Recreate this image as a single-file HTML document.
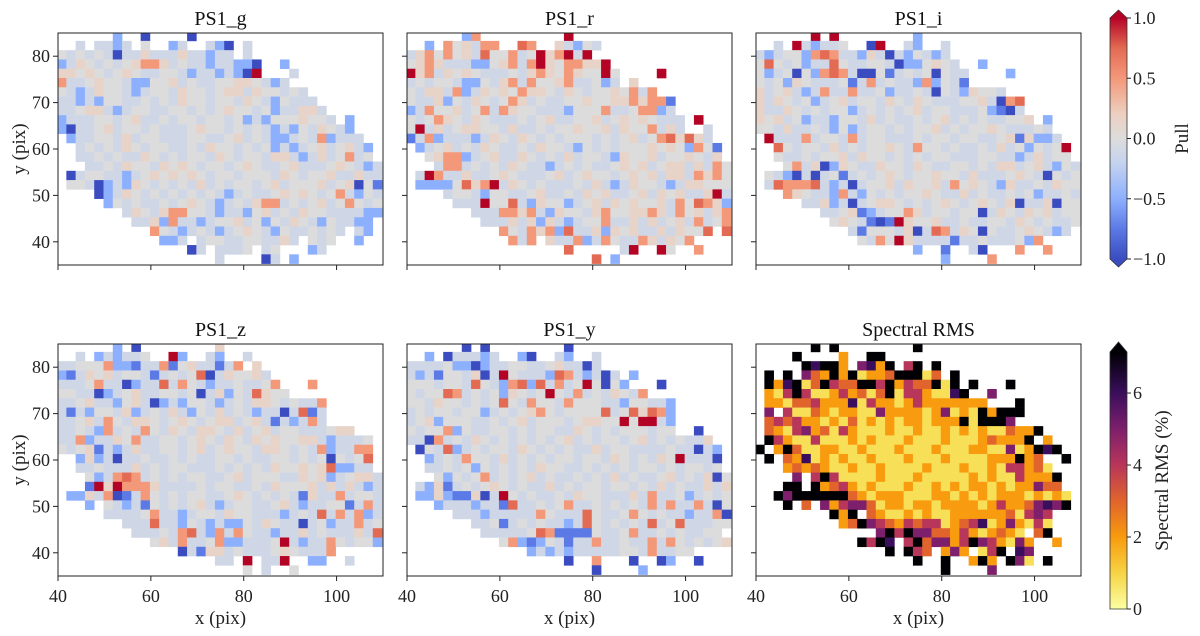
<!DOCTYPE html>
<html><head><meta charset="utf-8"><title>Pull maps</title>
<style>
html,body{margin:0;padding:0;background:#fff;}
svg{display:block;font-family:"Liberation Serif","DejaVu Serif",serif;}
</style></head>
<body>
<svg id="fig" width="1200" height="636" viewBox="0 0 1200 636" xmlns="http://www.w3.org/2000/svg">
<defs>
<linearGradient id="gPull" x1="0" y1="1" x2="0" y2="0">
<stop offset="0" stop-color="#3b4cc0"/><stop offset="0.125" stop-color="#5b7ae5"/><stop offset="0.25" stop-color="#8db0fe"/><stop offset="0.4" stop-color="#c5d3ee"/><stop offset="0.5" stop-color="#dddcdc"/><stop offset="0.6" stop-color="#ecd0c2"/><stop offset="0.75" stop-color="#f4987a"/><stop offset="0.875" stop-color="#e36a53"/><stop offset="1" stop-color="#b40426"/>
</linearGradient>
<linearGradient id="gRms" x1="0" y1="1" x2="0" y2="0">
<stop offset="0" stop-color="#fcffa4"/><stop offset="0.14" stop-color="#f6d445"/><stop offset="0.28" stop-color="#f89b0e"/><stop offset="0.42" stop-color="#e1642c"/><stop offset="0.56" stop-color="#b8365a"/><stop offset="0.7" stop-color="#7e1f6c"/><stop offset="0.84" stop-color="#3a0e5c"/><stop offset="1" stop-color="#000004"/>
</linearGradient>
</defs>
</svg>
<script>
// ---- data: each row is y-bin (top row = y 85), each char an x-bin (2 pix wide from x=39.8)
// pull codes: a=-1, b=-0.75, c=-0.5, d=-0.2, e=0, f=0.2, g=0.5, h=0.75, i=1
const pullCodes = ['a','b','c','d','e','f','g','h','i'];
const pullValues = [-1,-0.75,-0.5,-0.12,0,0.15,0.5,0.75,1];
const xTicks = [40,60,80,100];
const yTicks = [40,50,60,70,80];
const pullTicks = [1.0,0.5,0.0,-0.5,-1.0];
const pullTickLabels = ['1.0','0.5','0.0','\u22120.5','\u22121.0'];
const rmsTicks = [0,2,4,6];
const panelTitles = ['PS1_g','PS1_r','PS1_i','PS1_z','PS1_y','Spectral RMS'];

const rowsG = [
"..... .c..a ....a ..... ..... ..... .....",
"..d.d dcd.e ..cd. .dca. d.... ..... .....",
"edede daddf dddfd dcdd. d.... ..... .....",
"cdfed edefg gfded dcddc ca..c ..... .....",
"ffefe defed deedc ddcdc ai... d.... .....",
"gddef eedcc eefde ddeef fedcd ..... .....",
"edcdf eedcd eedfe edeff dfeed ed... .....",
"ddcdc eedde dedfe edeed fedce ddd.. .....",
"ddeff dcdee ddeed edefe edecd dffd. .....",
"cddde edefd dedee deede cdcee efeed .c...",
"cadde fdeed eddde feede dedcd cedfe dc...",
".cdde edfde eddde eddef dedcc dedgc ddd..",
"..ded edfed eedde dfeed edecd cdefd efdc.",
"..dde deddf edede edfed eedff dcdfd egde.",
"...dd edfee dfefe deede fedde fddde fedcd",
".adee ddcde fefef edeed eeedf edeef ddfdd",
".eeda cdcfe deded fdede edefd eeefd efaeb",
"....a cdfed edede dedcd eddef efede gdced",
"..... ceded dedef edcde dfggd edefd egede",
"..... ..dfe dfgge edcdd cefde dfeed dddcc",
"..... ...dd fcgdd cdeef deced fedce ddcc.",
"..... ..... gedcd edcde fedce ddede d.dc.",
"..... ..... .ccd. deedd eeddf d.ede ..c..",
"..... ..... ....a d.ddd e.de. ..cd. .....",
"..... ..... ..... ..d.. ..ad. c.... ....."
];
const rowsR = [
"..... .cg.. ..... ..i.. ..... ..... .....",
"..c.g efdgg ..hg. .fdce d.... ..... .....",
"dfgeg efdhe egdei fgidi ..... ..... .....",
"efgfd ddcce fgdgi feggf fi... ..... .....",
"ifgdf efedd dedfg fegfe eie.. ..i.. .....",
"dedee dcced fgdge efgdd ecd.f ..... .....",
"edffd gcdfe fegff edfed eefeg dg... .....",
"eddfc edfed egfde ddeef eeffg fggb. .....",
"cdgee fdegd gfeed ddcee egdde ggcd. .....",
"edegf edfed ddede fddee fdefe feddd .i...",
"eidfd effee dfdde deefe efdfe egdfd ..d..",
"bdgcd ddcdf edfed edeee dedef deghf hfd..",
".cdef dedfe ddedf eedce dedee efefe cgeb.",
"..efg gcdef ddfed edfde edcfe efdee fedf.",
"...dg gdede dfedd cdede ddefe fdeff dfdge",
".digd dfdde feddd efdef eedef efdff dgfge",
".cccc ehfgi dfede ddded fdcdf eedcd ffeee",
"....d eedce eddef ddedf efdde fdfef ddfid",
"..... dddie ehdcf eecde fdfef eefdg ehgfc",
"..... ..ddd ggfgd cfeed fgeef fgfdg efdfg",
"..... ...dd dfdfc fdcde egddf dfdef dgdeg",
"..... ..... gedgf gchdd fcfef ddfdf eeh.h",
"..... ..... .gdg. fddgc dgedd gfdfe g....",
"..... ..... ..... ..h.. ...di ..ie. .g...",
"..... ..... ..... ..... h.c.. ..... ....."
];
const rowsI = [
"..... .i.i. ..... ..c.. ..... ..... .....",
"..d.i dcdde ..ai. .dc.. d.... ..... .....",
"dcdee cghgd dcfda dcedc d.... ..... .....",
"ehede cddhe ddeed accef ed..c ..... .....",
"ecdea ecghg daaeb dedea edd.. ..c.. .....",
"edecf eddde bdgde ddcgc edb.. ..... .....",
"fdefd cdgdd gddec ddeda edcfe ed... .....",
"fdfed ecdef deedf edfed ddeef dagh. .....",
"fddfe dedee cdede defde eddde cbad. .....",
"fefde cddce edfde ddede fdede ddeef .c...",
"eedfd dedce cdeed edeef dedee feddd ed...",
".iddd gdeed gdeed ddede edeed defbf ccd..",
"..hed eedfd edeef edgee dedde dfdec edei.",
"..edd edeef dfeed edede eddde eddcd fdee.",
"...eg dfacf eddfe edfed deede dffde fdced",
".edca dadeb dedef edeef eedfd ddefe daede",
".dhgg ghdcd adeef dfeef dgefe dcfdd edfee",
"...gf eddcg dcede deefe ddfde ddede cdded",
"..... ddfcd adeff edede fedef edfad dfaee",
"..... ..dde fbcde egfde edeea dfedf efdee",
"..... ...ef edbab ifeef ddedd eedfe dedde",
"..... ..... dbeee dfadh gdfea eddef edcd.",
"..... ..... .edge ifddd dbdde dddec g....",
"..... ..... ..... ..c.. b..da ...g. .g...",
"..... ..... ..... ..... c.... g.... ....."
];
const rowsZ = [
"..... .c.a. ..... ..f.. ..... ..... .....",
"..d.c dcdde ..ic. .dc.. d.... ..... .....",
"ddeee gccbd dgbef ddbdg .f... ..... .....",
"cbdfe fdeed bdede hadfe efd.. ..... .....",
"dddeg ddacd dhdge dcdde ddeg. ..g.. .....",
"eedda cdefd deede adfce dhfee ..... .....",
"ddefd dcefd acdce edcde dffed eddg. .....",
"dbdce edfcd edfdc edfde dcdda dhbd. .....",
"ddefd gedff edefe deffd efdbd cdgd. .....",
"ddedc gdedg edfed ffedf defde eddde ff...",
"ddgcd dfegd deede fedfe dfefe effdc ddde.",
"edefb dcdfd deede fdefe edffe dedgc ddgg.",
"..cfc dadde ddede ddeed eddee dedea edeh.",
"..dde dddfd edeed ddede dedfe efefh ccdd.",
"...ec dghgd edede eddef deeed dfefc deffd",
"...bi figgg fdddd edeed dedfe eefdf dfdcd",
".ccfd gabdg edede eddef edede dbfdd gdeed",
"...c. edcdb edede fdcde eddef dcdde ebdgd",
"..... dddde gddcd eedfe edddc dedhd gdgcd",
"..... ..ddd hddce dcdcc edfed dadec ddgde",
"..... ...dd dedgh dcgdg eddcd dfded ddfdh",
"..... ..... efdgd degcc dddei dcddg edeec",
"..... ..... ...ad bffde dddef edddg .....",
"..... ..... ..... ..dd. i.ddi ..cc. .d...",
"..... ..... ..... ..... e.d.. e.... ....."
];
const rowsY = [
"..... .a.a. ..... ..a.. ..... ..... .....",
"..c.a dddcd ..ca. .dc.. d.... ..... .....",
"dddde ccacd deedd efdda d.... ..... .....",
"dcdbe edfad ieddd chgdc dad.c ..... .....",
"eeede edhed cghch dgdei eaec. ..a.. .....",
"edeeh gdede cfede iedgd edfed g.... .....",
"eedfe edede hedge edgee eddce eddc. .....",
"dedee deecd edefg edeee ehdeh fhgc. .....",
"defce eedde defde eedef feeie iidc. .....",
"edeeg cedde edede eddfe dedee edee. .a...",
"ddagd edfed edede defde deede fdede ddf..",
".aedh cdede edfed ededd fdeed ddded dadc.",
"..cde dgeed fdede deede edfed edfei ddda.",
"..dde deced ededf eedde deded eeded eede.",
"...ec edegd edefd edded edfde ddefd edfae",
".dcfb dedef ededd fdede edeed edfde ddfdf",
".ccfc bbfad ieded dedfe edddf dgdde cdede",
"...cd ddcdd bhdde degdd edede dgdgd dgdae",
"..... dddcd ddddg edddh eddeg ededd cddga",
"..... ..dde bdede ddcdh edede dhdeh dddee",
"..... ...dd dddeh gbbbb eddeg ddede ddee.",
"..... ..... egcbc edbdd gdded dgdge dedef",
"..... ..... ...cd cdcdd dddee dgdde e....",
"..... ..... ..... ..a.. g...a ..ac. .a...",
"..... ..... ..... ..... a.... c.... ....."
];
// spectral RMS (%) per bin: digits = percent, '8' = above colour range (black)
const rowsRms = [
"..... .8.8. ..... ..8.. ..... ..... .....",
"....8 ....2 ..88. ..... ..... ..... .....",
"..... 86882 .5628 .48.8 ..... ..... .....",
".8.8. 53282 81223 88813 .8... ..... .....",
".8268 13843 38848 24338 18.8. ..8.. .....",
".2148 41124 23138 14421 168.. 5.... .....",
".2213 34222 61422 12422 22222 ...8. .....",
".5.41 13212 21152 22212 51218 2888. .....",
".3434 22121 31212 12212 22818 885.. .....",
".3214 52314 21112 11211 21212 11322 8....",
".8421 14111 21211 12111 21112 32228 .2...",
"8.283 11221 12111 21112 11122 11512 868..",
".8.32 61212 11211 12111 21111 22282 3..8.",
"...23 23211 21121 11121 11211 21442 31...",
"....5 .4841 11121 11211 11121 21142 228..",
"...88 .8234 21211 12112 12122 12122 533..",
"..858 88888 32122 21112 21212 12221 2121.",
"...8. 3.524 55312 21221 22221 24223 5658.",
"..... ...82 8.321 12121 12222 22314 54...",
"..... ....2 38543 24344 12346 12521 41...",
"..... ..... ...58 48553 32421 2321. 38...",
"..... ..... .8486 .4835 52485 42152 ..2..",
"..... ..... ....8 .843. 252.1 48.65 .....",
"..... ..... ..... ..8.. 8..28 2.851 .8...",
"..... ..... ..... ..... 8.... 5.... ....."
];

// ---- colormaps
const pullStops = [[-1,[59,76,192]],[-0.75,[91,122,229]],[-0.5,[141,176,254]],[-0.2,[197,211,238]],[0,[221,220,220]],[0.2,[236,208,194]],[0.5,[244,152,122]],[0.75,[227,106,83]],[1,[180,4,38]]];
const rmsStops = [[0,[252,255,164]],[1,[247,224,88]],[2,[248,155,14]],[3,[225,100,44]],[4,[184,54,90]],[5,[126,31,108]],[6,[58,14,92]],[7,[0,0,4]]];
function cmap(stops,v){
  if(v<=stops[0][0]) return 'rgb('+stops[0][1].join(',')+')';
  for(let i=1;i<stops.length;i++){
    if(v<=stops[i][0]){
      const t=(v-stops[i-1][0])/(stops[i][0]-stops[i-1][0]);
      const a=stops[i-1][1], b=stops[i][1];
      return 'rgb('+a.map((x,j)=>Math.round(x+(b[j]-x)*t)).join(',')+')';
    }
  }
  return 'rgb('+stops[stops.length-1][1].join(',')+')';
}
const NS='http://www.w3.org/2000/svg';
const svg=document.getElementById('fig');
function el(tag,attrs,parent){const e=document.createElementNS(NS,tag);for(const k in attrs)e.setAttribute(k,attrs[k]);(parent||svg).appendChild(e);return e;}

const PW=325, PH=232;
const lefts=[58,407,756], tops=[33,344];
const XMIN=40,XMAX=110,YMIN=35,YMAX=85;
const panels=[
 {rows:rowsG,kind:'pull'},{rows:rowsR,kind:'pull'},{rows:rowsI,kind:'pull'},
 {rows:rowsZ,kind:'pull'},{rows:rowsY,kind:'pull'},{rows:rowsRms,kind:'rms'}];

panels.forEach((p,idx)=>{
  const col=idx%3,row=Math.floor(idx/3);
  const L=lefts[col],T=tops[row];
  const xs=v=>L+(v-XMIN)*PW/(XMAX-XMIN);
  const ys=v=>T+(YMAX-v)*PH/(YMAX-YMIN);
  const g=el('g',{});
  
  
  const cid='clip'+idx;
  const cp=el('clipPath',{id:cid},g);
  el('rect',{x:L,y:T,width:PW,height:PH},cp);
  const cells=el('g',{'clip-path':'url(#'+cid+')'},g);
  
  
  p.rows.forEach((rs,k)=>{
    const r=rs.replace(/ /g,'');
    for(let c=0;c<r.length;c++){
      const ch=r[c]; if(ch==='.') continue;
      let fill;
      if(p.kind==='pull'){const i=pullCodes.indexOf(ch); if(i<0) continue; fill=cmap(pullStops,pullValues[i]);}
      else {fill=cmap(rmsStops,parseInt(ch,10));}
      const x0=39.8+2*c, y1=85.3-2*k;
      const rc=el('rect',{x:xs(x0).toFixed(2),y:ys(y1).toFixed(2),width:(xs(x0+2)-xs(x0)+0.3).toFixed(2),height:(ys(y1-2)-ys(y1)+0.3).toFixed(2),fill:fill},cells);
      
      
    }
  });
  const fr=el('rect',{x:L,y:T,width:PW,height:PH,fill:'none',stroke:'#222','stroke-width':1},g);
  
  
  xTicks.forEach(v=>{
    el('line',{x1:xs(v),x2:xs(v),y1:T+PH,y2:T+PH+5,stroke:'#222','stroke-width':1},g);
    if(row===1){
      const t=el('text',{x:xs(v),y:T+PH+26,'text-anchor':'middle','font-size':18,fill:'#222'},g);
      t.textContent=String(v);
      
      
    }
  });
  yTicks.forEach(v=>{
    el('line',{x1:L-5,x2:L,y1:ys(v),y2:ys(v),stroke:'#222','stroke-width':1},g);
    if(col===0){
      const t=el('text',{x:L-8,y:ys(v)+6,'text-anchor':'end','font-size':18,fill:'#222'},g);
      t.textContent=String(v);
      
      
    }
  });
  const tt=el('text',{x:L+PW/2,y:T-8,'text-anchor':'middle','font-size':20,fill:'#111'},g);
  tt.textContent=panelTitles[idx];
  
  
  if(row===1){
    const xl=el('text',{x:L+PW/2,y:624,'text-anchor':'middle','font-size':19,fill:'#222'},g);
    xl.textContent='x (pix)';
    
    
  }
  if(col===0){
    const yl=el('text',{x:0,y:0,'text-anchor':'middle','font-size':19,fill:'#222',transform:'translate(25,'+(T+PH/2)+') rotate(-90)'},g);
    yl.textContent='y (pix)';
    
    
  }
});

// ---- colorbars
function colorbar(name,x,yTop,yBot,grad,tipTop,tipBot,tickVals,tickLabs,vmin,vmax,label,labelX,hasBotTip){
  const g=el('g',{});
  
  
  const w=17;
  el('rect',{x:x,y:yTop,width:w,height:yBot-yTop,fill:'url(#'+grad+')'},g);
  el('polygon',{points:(x)+','+yTop+' '+(x+w)+','+yTop+' '+(x+w/2)+','+tipTop,fill:hasBotTip?'#b40426':'#000004'},g);
  if(hasBotTip) el('polygon',{points:(x)+','+yBot+' '+(x+w)+','+yBot+' '+(x+w/2)+','+tipBot,fill:'#3b4cc0'},g);
  let outline=hasBotTip?
    `M${x},${yTop} L${x+w/2},${tipTop} L${x+w},${yTop} L${x+w},${yBot} L${x+w/2},${tipBot} L${x},${yBot} Z`:
    `M${x},${yTop} L${x+w/2},${tipTop} L${x+w},${yTop} L${x+w},${yBot} L${x},${yBot} Z`;
  el('path',{d:outline,fill:'none',stroke:'#333','stroke-width':0.8},g);
  const sy=v=>yBot-(v-vmin)*(yBot-yTop)/(vmax-vmin);
  tickVals.forEach((v,i)=>{
    el('line',{x1:x+w,x2:x+w+4,y1:sy(v),y2:sy(v),stroke:'#222','stroke-width':1},g);
    const t=el('text',{x:x+w+6,y:sy(v)+6,'font-size':18,fill:'#222'},g);
    t.textContent=tickLabs[i];
    
    
  });
  const lt=el('text',{x:0,y:0,'text-anchor':'middle','font-size':19,fill:'#222',transform:'translate('+labelX+','+((yTop+yBot)/2)+') rotate(-90)'},g);
  lt.textContent=label;
  
  
}
colorbar('pull-colorbar',1110,18,259,'gPull',10,267,pullTicks,pullTickLabels,-1,1,'Pull',1188,true);
colorbar('rms-colorbar',1110,352,609,'gRms',342,609,rmsTicks,rmsTicks.map(String),0,7.14,'Spectral RMS (%)',1168,false);
</script>
</body></html>
